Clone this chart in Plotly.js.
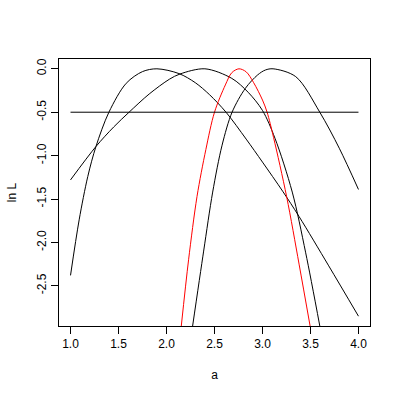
<!DOCTYPE html>
<html>
<head>
<meta charset="utf-8">
<script src="https://cdn.plot.ly/plotly-3.0.1.min.js"></script>
<style>
  html, body { margin: 0; padding: 0; background: #fff; }
  #plot { width: 400px; height: 400px; }
</style>
</head>
<body>
<div id="plot"></div>
<script>
// log-likelihood curves
const curveAx = [1.0, 1.09, 1.18, 1.265, 1.40, 1.58, 1.75, 1.90, 2.13, 2.30, 2.45, 2.62, 2.83, 3.0, 3.21, 3.38, 3.69, 4.0];
const curveAy = [-2.38, -1.74, -1.24, -0.895, -0.50, -0.167, -0.032, 0.0, -0.055, -0.16, -0.30, -0.50, -0.81, -1.075, -1.41, -1.70, -2.27, -2.85];

const curveBx = [1.0, 1.265, 1.45, 1.61, 1.82, 2.03, 2.14, 2.40, 2.68, 2.85, 3.0, 3.13, 3.31, 3.45, 3.597];
const curveBy = [-1.28, -0.895, -0.67, -0.50, -0.29, -0.12, -0.06, 0.0, -0.11, -0.27, -0.48, -0.80, -1.42, -2.12, -2.963];

const curveCx = [2.272, 2.387, 2.481, 2.579, 2.683, 2.822, 2.95, 3.03, 3.11, 3.346, 3.597, 3.80, 4.0];
const curveCy = [-2.963, -2.10, -1.42, -0.88, -0.50, -0.224, -0.07, -0.014, 0.0, -0.09, -0.50, -0.915, -1.39];

const redX = [2.154, 2.23, 2.318, 2.41, 2.50, 2.613, 2.68, 2.755, 2.83, 2.908, 3.0, 3.048, 3.115, 3.252, 3.381, 3.496];
const redY = [-2.963, -2.20, -1.47, -0.93, -0.50, -0.186, -0.045, 0.0, -0.035, -0.16, -0.36, -0.50, -0.79, -1.475, -2.25, -2.963];

const cutX = [1, 4];
const cutY = [-0.5, -0.5];

const xTicks = [1.0, 1.5, 2.0, 2.5, 3.0, 3.5, 4.0];
const xTickText = ['1.0', '1.5', '2.0', '2.5', '3.0', '3.5', '4.0'];
const yTicks = [0.0, -0.5, -1.0, -1.5, -2.0, -2.5];
const yTickText = ['0.0', '-0.5', '-1.0', '-1.5', '-2.0', '-2.5'];

function curve(x, y, color) {
    return {
        x: x,
        y: y,
        mode: 'lines',
        type: 'scatter',
        line: { color: color, width: 1, shape: 'spline', smoothing: 0.9 },
        hoverinfo: 'none'
    };
}

const data = [
    curve(curveAx, curveAy, 'black'),
    curve(curveBx, curveBy, 'black'),
    curve(curveCx, curveCy, 'black'),
    curve(redX, redY, 'red'),
    { x: cutX, y: cutY, mode: 'lines', type: 'scatter', line: { color: 'black', width: 1 }, hoverinfo: 'none' }
];

const axisFont = { family: 'Liberation Sans, Arial, sans-serif', size: 12, color: 'black' };

const layout = {
    width: 400,
    height: 400,
    margin: { l: 59, r: 30, t: 59, b: 74 },
    paper_bgcolor: 'white',
    plot_bgcolor: 'white',
    showlegend: false,
    font: axisFont,
    xaxis: {
        range: [0.88, 4.12],
        tickmode: 'array',
        tickvals: xTicks,
        ticktext: xTickText,
        ticks: 'outside',
        ticklen: 7,
        tickcolor: 'black',
        tickfont: axisFont,
        showgrid: false,
        zeroline: false,
        showline: true,
        mirror: true,
        linecolor: 'black',
        linewidth: 1,
        title: { text: 'a', font: axisFont, standoff: 20 }
    },
    yaxis: {
        range: [-2.963, 0.113],
        tickmode: 'array',
        tickvals: yTicks,
        ticktext: yTickText,
        tickangle: -90,
        ticks: 'outside',
        ticklen: 7,
        tickcolor: 'black',
        tickfont: axisFont,
        showgrid: false,
        zeroline: false,
        showline: true,
        mirror: true,
        linecolor: 'black',
        linewidth: 1,
        title: { text: 'ln L', font: axisFont, standoff: 16 }
    }
};

Plotly.newPlot('plot', data, layout, { displayModeBar: false, staticPlot: true });
</script>
</body>
</html>
